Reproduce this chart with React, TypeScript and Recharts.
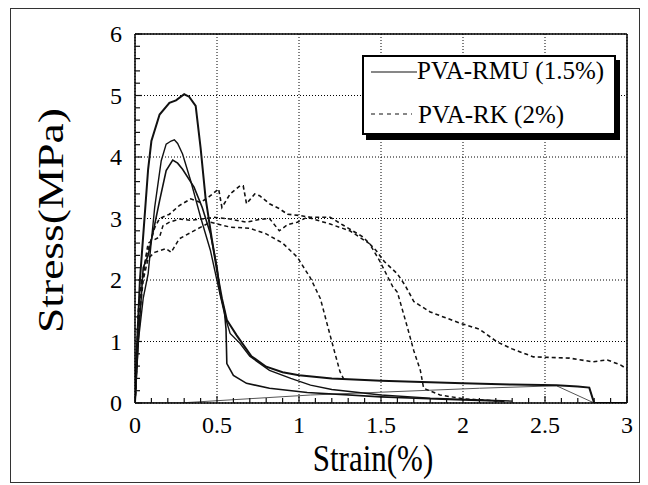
import React from 'react';
import { LineChart, Line, XAxis, YAxis, CartesianGrid, Legend, Label } from 'recharts';

const FONT = '"Liberation Serif", "Times New Roman", serif';

// tick values
const xTicks = [0, 0.1, 0.2, 0.3, 0.4, 0.5, 0.6, 0.7, 0.8, 0.9, 1, 1.1, 1.2, 1.3, 1.4, 1.5, 1.6, 1.7, 1.8, 1.9, 2, 2.1, 2.2, 2.3, 2.4, 2.5, 2.6, 2.7, 2.8, 2.9, 3];
const yTicks = [0, 0.2, 0.4, 0.6, 0.8, 1, 1.2, 1.4, 1.6, 1.8, 2, 2.2, 2.4, 2.6, 2.8, 3, 3.2, 3.4, 3.6, 3.8, 4, 4.2, 4.4, 4.6, 4.8, 5, 5.2, 5.4, 5.6, 5.8, 6];
const xMajorTicks = [0, 0.5, 1, 1.5, 2, 2.5, 3];
const yMajorTicks = [0, 1, 2, 3, 4, 5, 6];
const seriesNames = ['PVA-RMU (1.5%)', 'PVA-RK (2%)'];
const xTitle = 'Strain(%)';
const yTitle = 'Stress(MPa)';

// PVA-RMU (1.5%) specimens: [strain %, stress MPa]
const rmu1: number[][] = [[0, 0], [0.01, 0.8], [0.03, 2.0], [0.06, 3.08], [0.08, 3.8], [0.1, 4.26], [0.15, 4.69], [0.21, 4.88], [0.25, 4.92], [0.3, 5.02], [0.33, 4.98], [0.37, 4.83], [0.4, 4.15], [0.43, 3.34], [0.47, 2.64], [0.51, 1.99], [0.53, 1.7], [0.56, 1.35], [0.62, 1.1], [0.71, 0.76], [0.8, 0.59], [0.9, 0.5], [1.0, 0.45], [1.2, 0.4], [1.5, 0.36], [2.0, 0.32], [2.3, 0.3], [2.57, 0.29], [2.7, 0.27], [2.77, 0.25], [2.79, 0.08], [2.8, 0], [3.0, 0]];
const rmu2: number[][] = [[0, 0], [0.02, 1.0], [0.05, 1.7], [0.08, 2.1], [0.12, 3.18], [0.16, 3.94], [0.19, 4.21], [0.22, 4.26], [0.24, 4.28], [0.26, 4.22], [0.29, 4.05], [0.34, 3.61], [0.4, 3.02], [0.46, 2.48], [0.5, 1.99], [0.52, 1.75], [0.55, 1.4], [0.58, 1.13], [0.64, 0.97], [0.7, 0.76], [0.82, 0.53], [0.95, 0.4], [1.07, 0.29], [1.2, 0.22], [1.5, 0.13], [1.8, 0.08], [2.1, 0.05], [2.3, 0.03]];
const rmu3: number[][] = [[0, 0], [0.02, 1.0], [0.05, 2.2], [0.08, 2.4], [0.12, 2.9], [0.15, 3.29], [0.19, 3.78], [0.23, 3.95], [0.26, 3.9], [0.29, 3.8], [0.36, 3.51], [0.41, 3.18], [0.46, 2.75], [0.5, 2.21], [0.52, 1.78], [0.545, 1.5], [0.555, 1.2], [0.56, 0.64], [0.6, 0.45], [0.68, 0.32], [0.82, 0.24], [1.05, 0.17], [1.5, 0.1], [2.0, 0.05], [2.25, 0.03]];
const rmuUnload: number[][] = [[0, 0], [0.27, 0.0], [1.07, 0.13], [2.1, 0.24], [2.57, 0.28], [2.8, 0.0]];

// PVA-RK (2%) specimens
const rk1: number[][] = [[0, 0], [0.02, 1.2], [0.05, 2.0], [0.08, 2.35], [0.12, 2.45], [0.19, 2.51], [0.22, 2.45], [0.27, 2.67], [0.38, 2.83], [0.46, 2.94], [0.52, 2.9], [0.58, 2.86], [0.7, 2.84], [0.8, 2.75], [0.9, 2.6], [0.99, 2.37], [1.07, 2.03], [1.13, 1.7], [1.18, 1.2], [1.22, 0.8], [1.25, 0.51], [1.28, 0.35]];
const rk2: number[][] = [[0, 0], [0.03, 1.8], [0.08, 2.6], [0.15, 2.7], [0.17, 2.88], [0.21, 2.94], [0.27, 2.99], [0.34, 2.97], [0.4, 2.99], [0.48, 3.02], [0.58, 2.99], [0.68, 2.94], [0.75, 2.98], [0.82, 3.0], [0.88, 2.8], [0.93, 2.9], [0.99, 2.94], [1.05, 3.02], [1.19, 2.91], [1.31, 2.8], [1.43, 2.59], [1.49, 2.32], [1.57, 1.9], [1.6, 1.8], [1.66, 1.24], [1.7, 0.85], [1.74, 0.53], [1.76, 0.24], [1.86, 0.13], [2.0, 0.07], [2.27, 0.02]];
const rk3: number[][] = [[0, 0], [0.02, 1.5], [0.07, 2.4], [0.12, 2.85], [0.15, 3.0], [0.21, 3.07], [0.27, 3.21], [0.34, 3.32], [0.4, 3.26], [0.45, 3.35], [0.51, 3.48], [0.53, 3.18], [0.58, 3.4], [0.64, 3.53], [0.66, 3.53], [0.68, 3.24], [0.73, 3.4], [0.76, 3.37], [0.82, 3.24], [0.88, 3.16], [0.93, 3.07], [1.0, 3.05], [1.07, 3.02], [1.19, 3.02], [1.27, 2.89], [1.39, 2.7], [1.47, 2.48], [1.52, 2.3], [1.6, 2.1], [1.65, 1.9], [1.7, 1.65], [1.8, 1.48], [1.98, 1.3], [2.1, 1.2], [2.21, 0.99], [2.3, 0.88], [2.43, 0.75], [2.65, 0.73], [2.79, 0.67], [2.88, 0.7], [2.96, 0.62], [3.0, 0.55]];

const toXY = (pts: number[][]) => pts.map(([x, y]) => ({ x, y }));

const W = 648;
const H = 485;
const INK = '#111';

const isMajor = (v: number, step: number) => Math.abs(v / step - Math.round(v / step)) < 1e-6;

const BottomTick = (p: any) => {
  const v = p.payload.value;
  const major = isMajor(v, 0.5);
  return (
    <g>
      <line x1={p.x} x2={p.x} y1={p.y} y2={p.y - (major ? 7 : 5)} stroke={INK} strokeWidth={1.2} />
      {major && (
        <text x={p.x} y={p.y + 30} textAnchor="middle" fontSize={24} fontFamily={FONT} fill="#000">
          {String(v)}
        </text>
      )}
    </g>
  );
};
const TopTick = (p: any) => {
  const v = p.payload.value;
  const major = isMajor(v, 0.5);
  return <line x1={p.x} x2={p.x} y1={p.y} y2={p.y + (major ? 7 : 5)} stroke={INK} strokeWidth={1.2} />;
};
const LeftTick = (p: any) => {
  const v = p.payload.value;
  const major = isMajor(v, 1);
  return (
    <g>
      <line x1={p.x} x2={p.x + (major ? 7 : 5)} y1={p.y} y2={p.y} stroke={INK} strokeWidth={1.2} />
      {major && (
        <text x={p.x - 13} y={p.y + 8} textAnchor="end" fontSize={24} fontFamily={FONT} fill="#000">
          {String(v)}
        </text>
      )}
    </g>
  );
};
const RightTick = (p: any) => {
  const v = p.payload.value;
  const major = isMajor(v, 1);
  return <line x1={p.x} x2={p.x - (major ? 7 : 5)} y1={p.y} y2={p.y} stroke={INK} strokeWidth={1.2} />;
};

const XTitle = (p: any) => {
  const vb = p.viewBox;
  const cx = vb.x + vb.width / 2 - 8;
  const cy = vb.y + 68;
  return (
    <text transform={`translate(${cx},${cy}) scale(1,1.22)`} textAnchor="middle" fontSize={31} fontFamily={FONT} fill="#000">
      {xTitle}
    </text>
  );
};
const YTitle = (p: any) => {
  const vb = p.viewBox;
  const cx = vb.x - 24;
  const cy = vb.y + vb.height / 2 + 2;
  return (
    <text transform={`translate(${cx},${cy}) rotate(-90) scale(1.3,1)`} textAnchor="middle" dominantBaseline="central" fontSize={35} fontFamily={FONT} fill="#000">
      {yTitle}
    </text>
  );
};

const LegendBox = () => (
  <div style={{ width: 254, height: 80, border: '2px solid #000', boxShadow: '4px 5px 0 #000', background: '#fff', boxSizing: 'border-box' }}>
    <svg width={250} height={76} style={{ display: 'block' }}>
      <line x1={7} x2={53} y1={15} y2={15} stroke={INK} strokeWidth={1.2} />
      <text x={53} y={22} fontSize={25} fontFamily={FONT} fill="#000">{seriesNames[0]}</text>
      <line x1={7} x2={48} y1={57} y2={57} stroke={INK} strokeWidth={1.2} strokeDasharray="4 4" />
      <text x={54} y={66} fontSize={25} fontFamily={FONT} fill="#000">{seriesNames[1]}</text>
    </svg>
  </div>
);

const scaleOf = (axis: any) => (v: number) => {
  const s = axis && axis.scale;
  if (typeof s === 'function') return s(v);
  if (s && typeof s.map === 'function') return s.map(v);
  return 0;
};

export default function App() {
  const solid = { stroke: INK, dot: false as const, isAnimationActive: false, type: 'linear' as const, xAxisId: 'x', yAxisId: 'y' };
  return (
    <div style={{ position: 'absolute', left: 0, top: 0, width: W, height: H, background: '#fff', fontFamily: FONT }}>
      <div style={{ position: 'absolute', left: 10, top: 8, width: 630, height: 475, border: '1.5px solid #333', boxSizing: 'border-box' }} />
      <LineChart width={W} height={H} margin={{ top: 33, right: 20, bottom: 42, left: 75 }}>
        <CartesianGrid xAxisId="x" yAxisId="y" stroke="#000" strokeDasharray="1 2" strokeWidth={1}
          verticalCoordinatesGenerator={({ xAxis }: any) => xMajorTicks.map(scaleOf(xAxis))}
          horizontalCoordinatesGenerator={({ yAxis }: any) => yMajorTicks.map(scaleOf(yAxis))} />
        <XAxis xAxisId="x" type="number" dataKey="x" domain={[0, 3]} ticks={xTicks} interval={0} height={40}
          allowDataOverflow tickSize={0} tickMargin={0} tickLine={false}
          axisLine={{ stroke: '#000', strokeWidth: 1.5 }} tick={(p: any) => <BottomTick {...p} />}
          label={<Label content={XTitle} />} />
        <XAxis xAxisId="top" orientation="top" type="number" domain={[0, 3]} ticks={xTicks} interval={0} height={1}
          tickSize={0} tickMargin={0} tickLine={false}
          axisLine={{ stroke: '#000', strokeWidth: 1.5 }} tick={(p: any) => <TopTick {...p} />} />
        <YAxis yAxisId="y" type="number" domain={[0, 6]} ticks={yTicks} interval={0} width={60}
          allowDataOverflow tickSize={0} tickMargin={0} tickLine={false}
          axisLine={{ stroke: '#000', strokeWidth: 1.5 }} tick={(p: any) => <LeftTick {...p} />}
          label={<Label content={YTitle} />} />
        <YAxis yAxisId="right" orientation="right" type="number" domain={[0, 6]} ticks={yTicks} interval={0} width={1}
          tickSize={0} tickMargin={0} tickLine={false}
          axisLine={{ stroke: '#000', strokeWidth: 1.5 }} tick={(p: any) => <RightTick {...p} />} />

        <Line {...solid} data={toXY(rmuUnload)} dataKey="y" name="unload" stroke="#555" strokeWidth={1} legendType="none" />
        <Line {...solid} data={toXY(rmu1)} dataKey="y" name={seriesNames[0]} strokeWidth={2} />
        <Line {...solid} data={toXY(rmu2)} dataKey="y" name="rmu2" strokeWidth={1.4} legendType="none" />
        <Line {...solid} data={toXY(rmu3)} dataKey="y" name="rmu3" strokeWidth={1.6} legendType="none" />
        <Line {...solid} data={toXY(rk1)} dataKey="y" name={seriesNames[1]} strokeWidth={1.5} strokeDasharray="4 3" />
        <Line {...solid} data={toXY(rk2)} dataKey="y" name="rk2" strokeWidth={1.5} strokeDasharray="4 3" legendType="none" />
        <Line {...solid} data={toXY(rk3)} dataKey="y" name="rk3" strokeWidth={1.6} strokeDasharray="4 3" legendType="none" />

        <Legend layout="horizontal" verticalAlign="middle" align="center" content={() => <LegendBox />}
          wrapperStyle={{ left: 362, top: 55, width: 258, height: 84 }} />
      </LineChart>
    </div>
  );
}
